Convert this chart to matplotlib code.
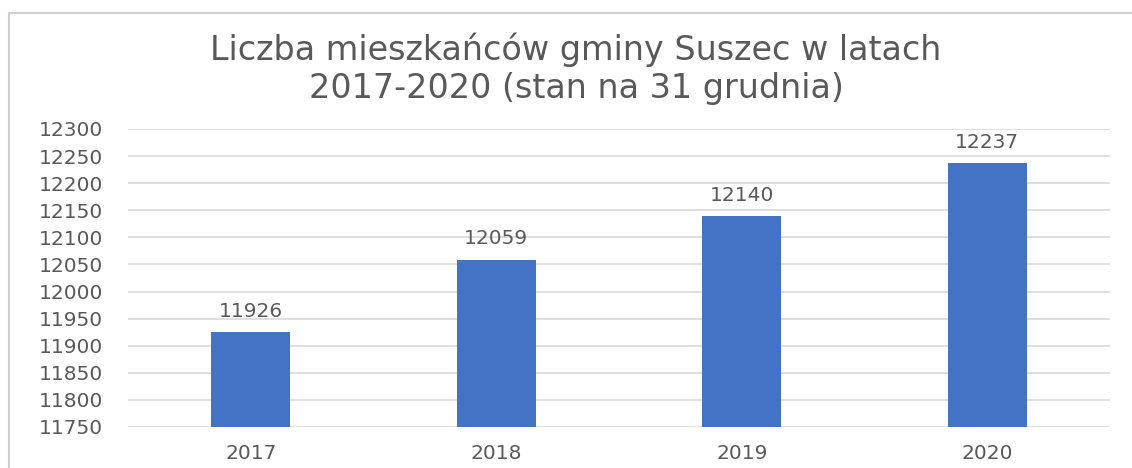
import matplotlib.pyplot as plt
from matplotlib.lines import Line2D

years = ["2017", "2018", "2019", "2020"]
residents = [11926, 12059, 12140, 12237]
y_ticks = list(range(11750, 12301, 50))

plt.rcParams['font.family'] = ['DejaVu Sans']
text_gray = "#595959"

fig = plt.figure(figsize=(11.32, 4.68), dpi=100)
ax = fig.add_axes([128 / 1132, 1 - 427 / 468, (1110 - 128) / 1132, (427 - 129) / 468])

x = range(len(years))
bars = ax.bar(x, residents, width=0.32, color="#4472C4", zorder=3)
for b, v in zip(bars, residents):
    ax.annotate(str(v), (b.get_x() + b.get_width() / 2, v), xytext=(0, 8),
                textcoords="offset points", ha="center", va="bottom",
                fontsize=14.5, color=text_gray)

ax.set_xlim(-0.5, len(years) - 0.5)
ax.set_ylim(11750, 12300)
ax.set_yticks(y_ticks)
ax.set_xticks(list(x))
ax.set_xticklabels(years)
ax.tick_params(axis="both", length=0, labelsize=14.5, labelcolor=text_gray)
ax.tick_params(axis="y", pad=18)
ax.tick_params(axis="x", pad=12)
ax.grid(axis="y", color="#D9D9D9", linewidth=1.2, zorder=0)
for s in ax.spines.values():
    s.set_visible(False)

fig.text(576 / 1132, 1 - 69 / 468, "Liczba mieszkańców gminy Suszec w latach\n2017-2020 (stan na 31 grudnia)",
         ha="center", va="center", fontsize=24, color=text_gray, linespacing=1.2)

# chart frame: only the left and top edges are visible
left, top = 9 / 1132, 1 - 13 / 468
fig.add_artist(Line2D([left, left], [0, top], transform=fig.transFigure, color="#D0D0D0", linewidth=1.5))
fig.add_artist(Line2D([left, 1], [top, top], transform=fig.transFigure, color="#D0D0D0", linewidth=1.5))

fig.savefig("out.png", dpi=100)
